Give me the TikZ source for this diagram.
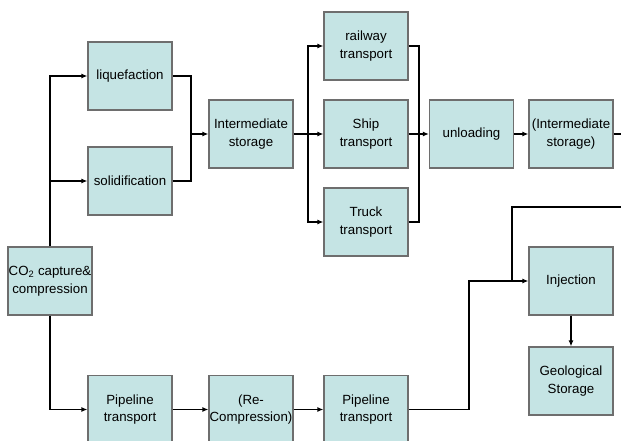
\documentclass[tikz,border=0pt]{standalone}
\usepackage{fontspec}
\setmainfont{Liberation Sans}
\usetikzlibrary{arrows.meta}
\definecolor{boxfill}{HTML}{C5E4E4}
\definecolor{boxline}{HTML}{6E6E6E}
\begin{document}
\begin{tikzpicture}[x=1pt,y=-1pt,
  stepbox/.style={draw=boxline, line width=1.2pt, fill=boxfill, minimum width=84pt, minimum height=68pt, inner sep=0.5pt, align=center, font=\fontsize{13.3}{17.5}\selectfont},
  conn/.style={line width=1.8pt, black},
  arr/.style={conn, -{Latex[length=6pt,width=5pt]}}]
\useasboundingbox (0,0) rectangle (621,440);
\clip (0,0) rectangle (621,440);
\node[stepbox] (liq) at (130,76) {liquefaction};
\node[stepbox] (sol) at (130,181) {solidification};
\node[stepbox] (ist) at (251,134) {Intermediate\\storage};
\node[stepbox] (rail) at (366,46) {railway\\transport};
\node[stepbox] (ship) at (366,134) {Ship\\transport};
\node[stepbox] (truck) at (366,222) {Truck\\transport};
\node[stepbox] (unl) at (471.5,134) {unloading};
\node[stepbox] (ist2) at (571,134) {(Intermediate\\storage)};
\node[stepbox] (co2) at (50,281) {CO\textsubscript{2} capture\&\\compression};
\node[stepbox] (pipe1) at (130,409.5) {Pipeline\\transport};
\node[stepbox] (recomp) at (251,409.5) {(Re-\\Compression)};
\node[stepbox] (pipe2) at (366,409.5) {Pipeline\\transport};
\node[stepbox] (inj) at (571,281) {Injection};
\node[stepbox] (geo) at (571,381) {Geological\\Storage};
% from capture
\draw[arr] (co2.north) |- (liq.west);
\draw[arr] (co2.north |- sol.west) -- (sol.west);
\draw[arr] (co2.south) |- (pipe1.west);
% merge to intermediate storage
\coordinate (m1) at (191,134);
\draw[conn] (liq.east) -| (m1);
\draw[conn] (sol.east) -| (m1);
\draw[arr] (m1) -- (ist.west);
% split to transports
\coordinate (s1) at (308,134);
\draw[conn] (ist.east) -- (s1);
\draw[arr] (s1) |- (rail.west);
\draw[arr] (s1) |- (truck.west);
\draw[arr] (s1) -- (ship.west);
% merge to unloading
\coordinate (m2) at (419,134);
\draw[conn] (rail.east) -| (m2);
\draw[conn] (truck.east) -| (m2);
\draw[arr] (ship.east) -- (unl.west);
\draw[arr] (unl) -- (ist2);
\coordinate (outR) at (626,134);
\draw[conn] (ist2.east) -- (outR);
% to injection
\coordinate (inR) at (626,207);
\coordinate (m3) at (512,281);
\coordinate (k) at (469,281);
\draw[arr] (inR) -| (m3) -- (inj.west);
\draw[conn] (pipe2.east) -| (k) -- (m3);
% pipeline chain
\draw[arr] (pipe1) -- (recomp);
\draw[arr] (recomp) -- (pipe2);
\draw[arr] (inj) -- (geo);
\end{tikzpicture}
\end{document}
